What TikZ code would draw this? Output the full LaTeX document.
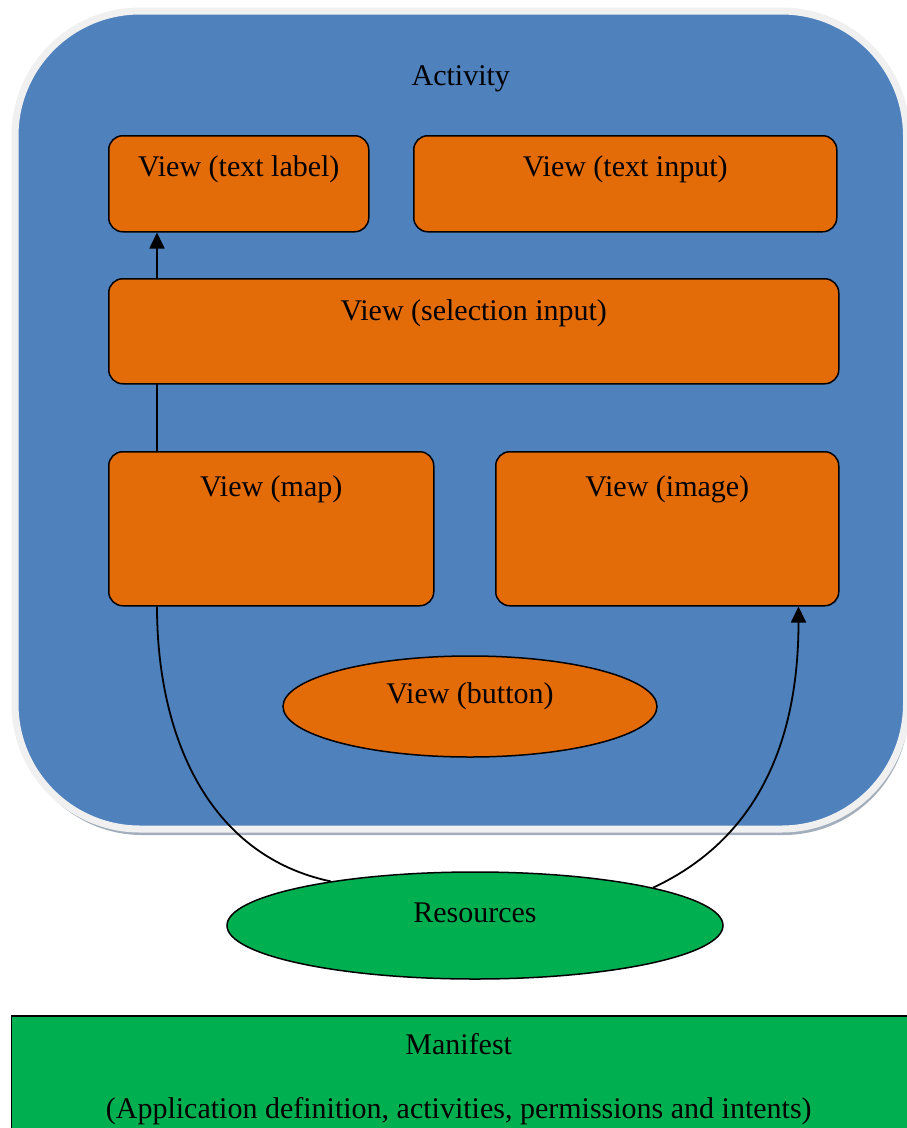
\documentclass[tikz,border=0pt]{standalone}
\usepackage{fontspec}
\setmainfont{Liberation Serif}
\usetikzlibrary{shapes.geometric,arrows.meta,shadows}

\definecolor{actblue}{HTML}{4F81BD}
\definecolor{vieworange}{HTML}{E36C09}
\definecolor{resgreen}{HTML}{00B050}
\definecolor{edgegray}{HTML}{F0F0F0}
\definecolor{shadegray}{HTML}{A3AEBD}

\pgfdeclarelayer{back}
\pgfdeclarelayer{lines}
\pgfsetlayers{back,lines,main}

\begin{document}
\begin{tikzpicture}[x=1pt,y=-1pt,font=\fontsize{30}{36}\selectfont,
    toptext/.style 2 args={label={[anchor=base,inner sep=0pt,yshift=-#1]north:#2}}]
        \tikzstyle{every path}=[line width=1.5pt]

        \tikzstyle{view}=[draw,fill=vieworange,rounded corners=14pt,inner sep=0pt,anchor=north west]
        \tikzstyle{oval}=[draw,ellipse,inner sep=0pt,text depth=26pt]
        \tikzstyle{link}=[line width=1.8pt,-{Triangle[length=16pt,width=15pt]}]

        \useasboundingbox (0,0) rectangle (906,1128);

        % the activity frame behind everything
        \begin{pgfonlayer}{back}
        \node [draw=edgegray,line width=7pt,fill=actblue,rounded corners=125pt,
               minimum width=891.5pt,minimum height=818pt,anchor=north west,
               drop shadow={shadow xshift=2pt,shadow yshift=-6pt,fill=shadegray,opacity=1},
               toptext={78pt}{Activity}] (act) at (11.5,7.5) {};
        \end{pgfonlayer}

        % views
        \node [view,minimum width=260pt,minimum height=96pt,toptext={41pt}{View (text label)}] (lbl) at (108,135) {};
        \node [view,minimum width=423pt,minimum height=96pt,toptext={41pt}{View (text input)}] (inp) at (413,135) {};
        \node [view,minimum width=730pt,minimum height=105pt,toptext={42pt}{View (selection input)}] (sel) at (108,278) {};
        \node [view,minimum width=325pt,minimum height=154pt,toptext={45pt}{View (map)}] (map) at (108,451) {};
        \node [view,minimum width=343pt,minimum height=154pt,toptext={45pt}{View (image)}] (img) at (495,451) {};
        \node [oval,fill=vieworange,minimum width=374pt,minimum height=101pt] (btn) at (470,706.5) {View (button)};

        \node [oval,fill=resgreen,minimum width=496pt,minimum height=107pt] (res) at (475,925.5) {Resources};

        \node [draw,fill=resgreen,anchor=north west,minimum width=920pt,minimum height=140pt,
               label={[anchor=north,inner sep=0pt,xshift=-12.5pt,yshift=-17.5pt,align=center]north:{Manifest\\[28pt](Application definition, activities, permissions and intents)}}]
               (man) at (10.5,1015) {};

        % links between views and resources
        \begin{pgfonlayer}{lines}
        \draw [link] ([xshift=49pt]map.north west) -- ([xshift=49pt]lbl.south west);
        \draw [line width=1.8pt] ([xshift=49pt]map.south west) to[out=-90,in=168] (res.163);
        \draw [link] (res.12) to[out=25,in=-90] ([xshift=-41pt]img.south east);
        \end{pgfonlayer}
\end{tikzpicture}
\end{document}
